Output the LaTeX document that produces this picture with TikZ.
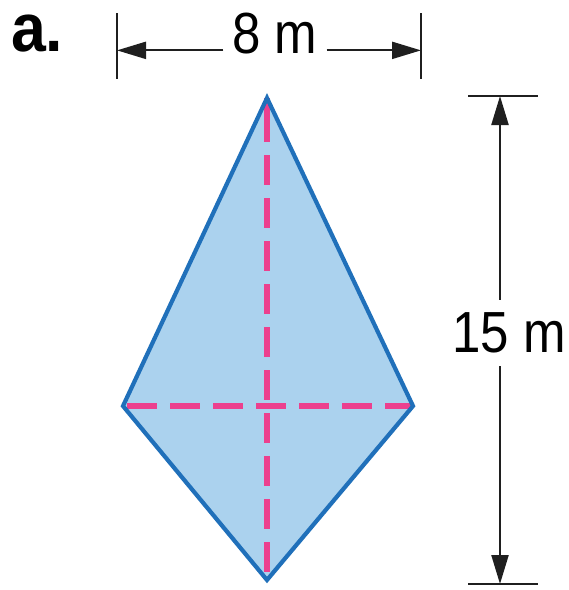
\documentclass[tikz,border=0pt]{standalone}
\usepackage{fontspec}
\setmainfont{Liberation Sans}
\usetikzlibrary{arrows.meta,positioning,calc}
\definecolor{kitefill}{RGB}{171,210,238}
\definecolor{kiteedge}{RGB}{32,112,186}
\definecolor{diagpink}{RGB}{236,64,142}

\begin{document}
\begin{tikzpicture}[x=1pt,y=-1pt,>={Triangle[length=29pt,width=17pt]}]
\useasboundingbox (0,0) rectangle (569,590);
\tikzset{
  dimline/.style={line width=2.2pt,black!88},
  dimlabel/.style={inner sep=0pt,font=\fontsize{58}{62}\selectfont},
  diagonal/.style={diagpink,line width=6pt},
  dashes/.style={dash pattern=on 30pt off 13pt,dash phase=#1},
}
% kite corners
\coordinate (top) at (267,98);
\coordinate (left) at (123,406);
\coordinate (right) at (413,406);
\coordinate (bottom) at (267,580);
\coordinate (topdash) at (267,142);
\fill[kitefill] (top) -- (right) -- (bottom) -- (left) -- cycle;
\draw[diagonal] (top) -- (topdash);
\draw[diagonal,dashes=29pt] (top) -- (bottom);
\draw[diagonal,dashes=39pt] (left) -- (right);
\draw[kiteedge,line width=4.2pt,line join=miter] (top) -- (right) -- (bottom) -- (left) -- cycle;
% part label
\node[anchor=base west,inner sep=0pt,font=\fontsize{68}{72}\selectfont\bfseries] (part) at (11,51) {\scalebox{0.92}[1]{a.}};
% width
\node[dimlabel,inner xsep=9pt,anchor=base] (w8) at (275,53) {\scalebox{0.88}[1]{8 m}};
\coordinate (wl) at (117,40);
\coordinate (wr) at (421,40);
\draw[dimline] ($(wl)+(0,-27)$) -- ($(wl)+(0,39)$);
\draw[dimline] ($(wr)+(0,-27)$) -- ($(wr)+(0,39)$);
\draw[dimline,->] (w8.mid west) -- (w8.mid west -| wl);
\draw[dimline,->] (w8.mid east) -- (w8.mid east -| wr);
% height
\node[dimlabel,inner ysep=13pt] (h15) at (509,333) {\scalebox{0.88}[1]{15 m}};
\coordinate (ht) at (500,96);
\coordinate (hb) at (500,584);
\draw[dimline] ($(ht)+(-32,0)$) -- ($(ht)+(38,0)$);
\draw[dimline] ($(hb)+(-32,0)$) -- ($(hb)+(38,0)$);
\draw[dimline,->] (h15.north -| ht) -- (ht);
\draw[dimline,->] (h15.south -| hb) -- (hb);
\end{tikzpicture}
\end{document}
